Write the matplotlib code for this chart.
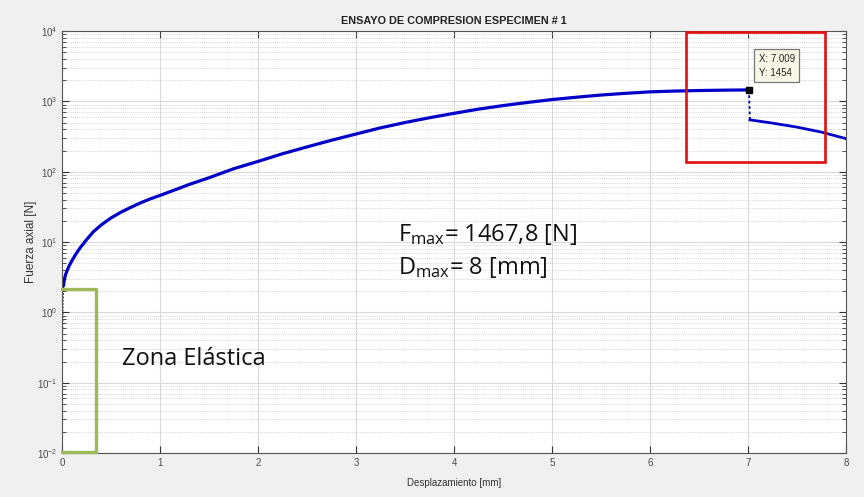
import matplotlib
matplotlib.use("Agg")
import matplotlib.pyplot as plt
from matplotlib.patches import Rectangle
from matplotlib.ticker import LogLocator, NullFormatter

# --- data ---
# initial near-vertical rise (thin dotted segment)
x_start = [0.0, 0.002, 0.005, 0.008, 0.012, 0.015]
y_start = [0.2, 0.45, 0.9, 1.5, 2.1, 2.4]

# loading branch up to the peak
x_load = [0.015, 0.025, 0.035, 0.048, 0.07, 0.1, 0.14, 0.18, 0.25, 0.32, 0.4, 0.5,
          0.6, 0.7, 0.8, 0.9, 1.0, 1.15, 1.3, 1.5, 1.75, 2.0, 2.25, 2.5, 2.75,
          3.0, 3.25, 3.5, 3.75, 4.0, 4.25, 4.5, 4.75, 5.0, 5.25, 5.5, 5.75,
          6.0, 6.25, 6.5, 6.75, 7.009]
y_load = [2.4, 3.0, 3.4, 3.8, 4.5, 5.4, 6.7, 8.1, 10.8, 14.0, 17.5, 22.0,
          26.5, 31.0, 36.0, 41.0, 46.0, 55.0, 66.0, 82.0, 110.0, 140.0, 180.0, 225.0, 280.0,
          343.0, 420.0, 500.0, 585.0, 676.0, 775.0, 870.0, 965.0, 1060.0, 1145.0, 1230.0, 1300.0,
          1365.0, 1400.0, 1425.0, 1442.0, 1454.0]

# sudden drop (dotted) and post-failure branch
x_drop = [7.009, 7.02]
y_drop = [1454.0, 545.0]
x_post = [7.02, 7.25, 7.5, 7.75, 8.0]
y_post = [545.0, 490.0, 430.0, 365.0, 295.0]

peak_x, peak_y = 7.009, 1454
fmax_label = "1467,8"
dmax_label = "8"
y_ticks = [1e-2, 1e-1, 1e0, 1e1, 1e2, 1e3, 1e4]

BLUE = "#0000c8"
GRAY_TXT = "#4a4a4a"

plt.rcParams["font.family"] = ["Liberation Sans", "DejaVu Sans"]
plt.rcParams["mathtext.fontset"] = "custom"
plt.rcParams["mathtext.rm"] = "Open Sans"
plt.rcParams["mathtext.it"] = "Open Sans"

fig = plt.figure(figsize=(8.64, 4.97), dpi=100, facecolor="#f0f0f0")
ax = fig.add_axes([0.0718, 0.0885, 0.9074, 0.8491])
ax.set_facecolor("white")

ax.plot(x_start, y_start, color=BLUE, lw=1.2, ls=(0, (1, 1)))
ax.plot(x_load, y_load, color=BLUE, lw=2.3, solid_capstyle="round",
        solid_joinstyle="round")
ax.plot(x_drop, y_drop, color=BLUE, lw=1.3, ls=(0, (1.5, 1.5)))
ax.plot(x_post, y_post, color=BLUE, lw=2.0)
ax.plot([peak_x], [peak_y], marker="s", ms=5, color="black", zorder=5)

ax.set_yscale("log")
ax.set_xlim(0, 8)
ax.set_ylim(1e-2, 1e4)
ax.set_xticks(range(9))
ax.set_yticks(y_ticks)
ax.yaxis.set_minor_locator(LogLocator(base=10, subs=range(2, 10), numticks=100))
ax.yaxis.set_minor_formatter(NullFormatter())

ax.grid(True, which="major", color="#d9d9d9", lw=0.8)
ax.grid(True, which="minor", axis="y", color="#c8c8c8", lw=0.6, ls=(0, (1, 1.5)))
ax.set_axisbelow(True)

ax.tick_params(which="both", direction="in", top=True, right=True,
               labelsize=7, colors="#333333", labelcolor=GRAY_TXT)
ax.tick_params(which="major", length=5)
ax.tick_params(which="minor", length=3)
for s in ax.spines.values():
    s.set_color("#555555")
    s.set_linewidth(0.8)

ax.set_title("ENSAYO DE COMPRESION ESPECIMEN # 1", fontsize=7.8,
             fontweight="bold", color="#222222", pad=5)
ax.set_xlabel("Desplazamiento [mm]", fontsize=7, color="#333333", labelpad=7)
ax.set_ylabel("Fuerza axial [N]", fontsize=8.5, color="#333333", labelpad=0)

# data tip
ax.annotate(f"X: {peak_x}\nY: {peak_y}", xy=(peak_x, peak_y), xytext=(7.11, 3200),
            fontsize=7, color="#222222", va="center", ha="left", linespacing=1.5,
            bbox=dict(boxstyle="square,pad=0.45", fc="#f8f8e6", ec="#777777", lw=0.9))

# red highlight box
ax.add_patch(Rectangle((6.37, 138), 7.79 - 6.37, 9800 - 138, fill=False,
                       ec="#e01010", lw=1.9, zorder=6))

# green bracket for elastic zone
ax.plot([0.0, 0.35, 0.35, 0.0], [2.15, 2.15, 0.0105, 0.0105], color="#9bbb59",
        lw=2.4, solid_joinstyle="round", solid_capstyle="round", zorder=6, clip_on=False)

ax.text(0.61, 0.22, "Zona Elástica", fontsize=17, family="Open Sans",
        color="#111111", va="center", ha="left")
ax.text(3.43, 12.6, r"F$_{\mathrm{max}}$= " + fmax_label + " [N]", fontsize=17,
        family="Open Sans", color="#111111", va="center", ha="left")
ax.text(3.43, 4.3, r"D$_{\mathrm{max}}$= " + dmax_label + " [mm]", fontsize=17,
        family="Open Sans", color="#111111", va="center", ha="left")

fig.savefig("out.png", dpi=100, facecolor=fig.get_facecolor())
